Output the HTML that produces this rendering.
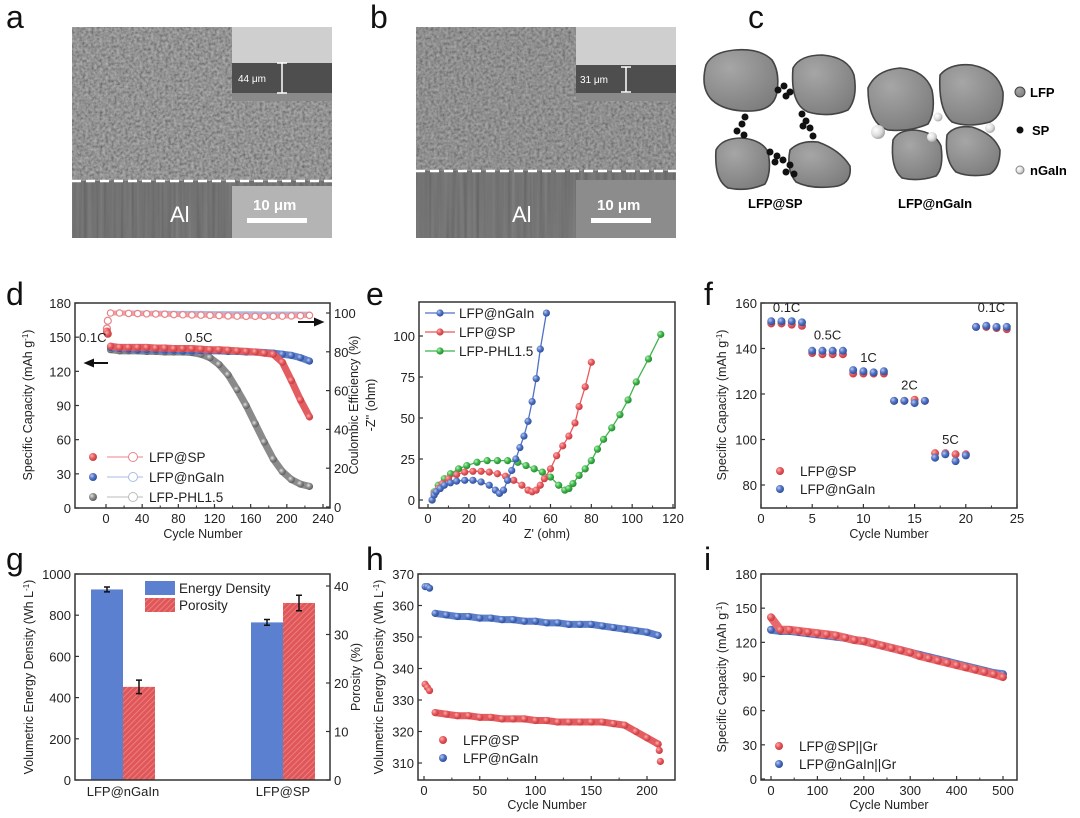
<!DOCTYPE html>
<html><head><meta charset="utf-8">
<style>
html,body{margin:0;padding:0;background:#fff;}
svg{display:block;font-family:"Liberation Sans",Arial,sans-serif;}
.tk{font-size:13px;fill:#222;}
.ax{font-size:12.5px;fill:#222;}
.pl{font-size:32px;fill:#111;}
.lg{font-size:13.5px;fill:#222;}
</style></head>
<body>
<svg id="fig" width="1080" height="818" viewBox="0 0 1080 818" xmlns="http://www.w3.org/2000/svg">
<defs>
<filter id="noise" x="0" y="0" width="1" height="1">
<feTurbulence type="fractalNoise" baseFrequency="0.35" numOctaves="2" seed="4"/>
<feColorMatrix type="matrix" values="1 0 0 0 0 1 0 0 0 0 1 0 0 0 0 0 0 0 0 1"/>
</filter>
<filter id="streak" x="0" y="0" width="1" height="1">
<feTurbulence type="fractalNoise" baseFrequency="0.25 0.005" numOctaves="2" seed="7"/>
<feColorMatrix type="matrix" values="1 0 0 0 0 1 0 0 0 0 1 0 0 0 0 0 0 0 0 1"/>
</filter>
<pattern id="hatch" width="4" height="4" patternUnits="userSpaceOnUse" patternTransform="rotate(45)">
<rect width="4" height="4" fill="#e0575a"/><line x1="0" y1="0" x2="0" y2="4" stroke="#f08a8a" stroke-width="1.5"/>
</pattern>
<radialGradient id="gr" cx="0.35" cy="0.35" r="0.7"><stop offset="0" stop-color="#f7b0b0"/><stop offset="0.5" stop-color="#e8585c"/><stop offset="1" stop-color="#c03a3e"/></radialGradient>
<radialGradient id="gb" cx="0.35" cy="0.35" r="0.7"><stop offset="0" stop-color="#b8c8ee"/><stop offset="0.5" stop-color="#4f72c4"/><stop offset="1" stop-color="#2c4c96"/></radialGradient>
<radialGradient id="gk" cx="0.35" cy="0.35" r="0.7"><stop offset="0" stop-color="#e0e0e0"/><stop offset="0.5" stop-color="#8a8a8a"/><stop offset="1" stop-color="#5a5a5a"/></radialGradient>
<radialGradient id="gg" cx="0.35" cy="0.35" r="0.7"><stop offset="0" stop-color="#b8f0b8"/><stop offset="0.5" stop-color="#3db54a"/><stop offset="1" stop-color="#23862e"/></radialGradient>
<radialGradient id="gw" cx="0.35" cy="0.35" r="0.7"><stop offset="0" stop-color="#ffffff"/><stop offset="0.6" stop-color="#dcdcdc"/><stop offset="1" stop-color="#a0a0a0"/></radialGradient>
<radialGradient id="gp" cx="0.35" cy="0.3" r="0.8"><stop offset="0" stop-color="#a6a6a6"/><stop offset="1" stop-color="#7c7c7c"/></radialGradient>
</defs>

<text class="pl" x="6" y="28">a</text>
<text class="pl" x="370" y="28">b</text>
<text class="pl" x="748" y="28">c</text>
<text class="pl" x="6" y="305">d</text>
<text class="pl" x="366" y="305">e</text>
<text class="pl" x="704" y="305">f</text>
<text class="pl" x="6" y="570">g</text>
<text class="pl" x="366" y="570">h</text>
<text class="pl" x="704" y="570">i</text>

<g>
<rect x="72" y="27" width="260" height="154" fill="#626262"/>
<rect x="72" y="27" width="260" height="154" filter="url(#noise)" opacity="0.55"/>
<rect x="72" y="181" width="260" height="57" fill="#5a5a5a"/>
<rect x="72" y="181" width="260" height="57" filter="url(#streak)" opacity="0.25"/>
<line x1="72" y1="181" x2="332" y2="181" stroke="#fff" stroke-width="2.5" stroke-dasharray="9,5"/>
<rect x="232" y="27" width="100" height="36" fill="#cfcfcf"/>
<rect x="232" y="63" width="100" height="30" fill="#4e4e4e"/>
<rect x="232" y="93" width="100" height="8" fill="#8a8a8a"/>
<line x1="282" y1="63" x2="282" y2="93" stroke="#fff" stroke-width="1.5"/>
<line x1="277" y1="63" x2="287" y2="63" stroke="#fff" stroke-width="1.5"/>
<line x1="277" y1="93" x2="287" y2="93" stroke="#fff" stroke-width="1.5"/>
<text x="238" y="82" font-size="10" fill="#fff">44 μm</text>
<rect x="232" y="186" width="100" height="52" fill="#b4b4b4"/>
<text x="253" y="210" font-size="15" fill="#fff" font-weight="bold">10 μm</text>
<rect x="247" y="218" width="60" height="5" fill="#fff"/>
<text x="170" y="222" font-size="22" fill="#fff">Al</text>
</g>
<g>
<rect x="416" y="27" width="260" height="144" fill="#626262"/>
<rect x="416" y="27" width="260" height="144" filter="url(#noise)" opacity="0.5"/>
<rect x="416" y="171" width="260" height="67" fill="#5c5c5c"/>
<rect x="416" y="171" width="260" height="67" filter="url(#streak)" opacity="0.25"/>
<line x1="416" y1="171" x2="676" y2="171" stroke="#fff" stroke-width="2.5" stroke-dasharray="9,5"/>
<rect x="576" y="27" width="100" height="38" fill="#cfcfcf"/>
<rect x="576" y="65" width="100" height="28" fill="#4e4e4e"/>
<rect x="576" y="93" width="100" height="8" fill="#8a8a8a"/>
<line x1="626" y1="67" x2="626" y2="92" stroke="#fff" stroke-width="1.5"/>
<line x1="621" y1="67" x2="631" y2="67" stroke="#fff" stroke-width="1.5"/>
<line x1="621" y1="92" x2="631" y2="92" stroke="#fff" stroke-width="1.5"/>
<text x="580" y="83" font-size="10" fill="#fff">31 μm</text>
<rect x="576" y="180" width="100" height="58" fill="#8c8c8c"/>
<text x="597" y="210" font-size="15" fill="#fff" font-weight="bold">10 μm</text>
<rect x="591" y="218" width="60" height="5" fill="#fff"/>
<text x="512" y="222" font-size="22" fill="#fff">Al</text>
</g>
<g stroke="#444" stroke-width="1.6" stroke-linejoin="round" fill="url(#gp)">
<path d="M706 65 Q712 52 735 50 Q760 48 772 60 Q780 72 777 92 Q774 110 752 111 Q725 112 712 100 Q700 88 706 65 Z"/>
<path d="M793 68 Q800 55 822 55 Q848 57 854 75 Q858 98 848 110 Q830 118 808 112 Q790 104 793 68 Z"/>
<path d="M716 150 Q722 138 742 138 Q762 140 768 152 Q772 172 765 184 Q748 192 728 188 Q714 180 716 150 Z"/>
<path d="M790 150 Q800 140 818 142 Q840 150 850 166 Q852 182 838 186 Q812 190 796 182 Q786 170 790 150 Z"/>
<path d="M868 88 Q876 70 900 68 Q925 70 932 90 Q936 112 928 124 Q910 132 888 130 Q868 124 868 88 Z"/>
<path d="M940 75 Q950 63 972 65 Q998 70 1003 92 Q1004 115 990 122 Q968 128 952 122 Q938 110 940 75 Z"/>
<path d="M893 140 Q898 130 915 130 Q935 132 941 146 Q944 168 936 176 Q918 182 902 178 Q890 168 893 140 Z"/>
<path d="M947 135 Q954 125 972 127 Q994 134 1000 150 Q1000 168 990 174 Q970 178 956 172 Q944 160 947 135 Z"/>
</g>
<g fill="#111">
<circle cx="778" cy="90" r="3.5"/><circle cx="784" cy="86" r="3.5"/><circle cx="790" cy="92" r="3.5"/><circle cx="786" cy="96" r="3.5"/>
<circle cx="745" cy="117" r="3.5"/><circle cx="742" cy="124" r="3.5"/><circle cx="737" cy="131" r="3.5"/><circle cx="744" cy="135" r="3.5"/>
<circle cx="802" cy="114" r="3.5"/><circle cx="806" cy="121" r="3.5"/><circle cx="810" cy="128" r="3.5"/><circle cx="803" cy="126" r="3.5"/><circle cx="813" cy="136" r="3.5"/>
<circle cx="770" cy="152" r="3.5"/><circle cx="777" cy="156" r="3.5"/><circle cx="783" cy="160" r="3.5"/><circle cx="775" cy="162" r="3.5"/><circle cx="790" cy="165" r="3.5"/><circle cx="786" cy="172" r="3.5"/><circle cx="794" cy="174" r="3.5"/>
</g>
<g fill="url(#gw)">
<circle cx="938" cy="117" r="4.5"/><circle cx="878" cy="132" r="7"/><circle cx="932" cy="137" r="5"/><circle cx="990" cy="128" r="5"/>
</g>
<g>
<circle cx="1020" cy="92" r="5" fill="url(#gp)" stroke="#444"/><text x="1030" y="97" font-size="13" font-weight="bold">LFP</text>
<circle cx="1020" cy="130" r="3.5" fill="#111"/><text x="1032" y="135" font-size="13" font-weight="bold">SP</text>
<circle cx="1020" cy="170" r="4" fill="url(#gw)" stroke="#888"/><text x="1030" y="175" font-size="13" font-weight="bold">nGaIn</text>
</g>
<text x="748" y="208" font-size="13" font-weight="bold">LFP@SP</text>
<text x="898" y="208" font-size="13" font-weight="bold">LFP@nGaIn</text>

<g id="charts"></g>
</svg>

<script>
const dCycles = [5,15,25,35,45,55,65,75,85,95,105,115,125,135,145,155,165,175,185,195,205,215,225];
const dCapSP = [142,141,141,141,141,140.5,140.5,140,140,140,139.5,139,139,138.5,138,137.5,137,136,135,128,112,95,80];
const dCapNG = [141,140,139.5,139,139,139,138.5,138.5,138,138,138,138,138,137.5,137.5,137,137,136.5,136,135,134,132,129];
const dCapPHL = [139,138,138,138,137.5,137.5,137,137,137,136.5,135,132,126,117,104,90,74,58,43,32,25,21,19];
const dFirstCycles = [1,2];
const dFirstSP = [155,153];
const dCeSP = [100,100,99.8,99.7,99.6,99.5,99.4,99.2,99.1,99,98.9,98.8,98.7,98.5,98.4,98.3,98.3,98.3,98.3,98.4,98.5,98.6,98.8];
const dCeNG = [100,100,100,100,99.9,99.9,99.9,99.8,99.8,99.8,99.8,99.7,99.7,99.7,99.6,99.6,99.6,99.5,99.5,99.5,99.5,99.4,99.4];
const dCeFirst = [92,96];
const dXTicks = [0,40,80,120,160,200,240];
const dYTicks = [0,30,60,90,120,150,180];
const dY2Ticks = [0,20,40,60,80,100];
const eNGx = [2,3,4,6,8,11,14,18,22,26,30,33,35,37,39,41,43,45,47,49,51,53,55,58];
const eNGy = [0,3,5,7,9,10.5,11.5,12,12,11,9,6,4,6,12,18,25,32,39,48,60,74,92,114];
const eSPx = [2,3,5,7,10,14,18,22,26,30,34,38,42,46,49,51,53,55,57,60,63,66,69,72,74,77,80];
const eSPy = [0,4,7,10,13,15.5,17,17.5,17.5,17,16,14.5,12,9,6,5,6,9,13,19,27,33,39,47,57,69,84];
const ePHx = [2,3,5,8,11,15,19,24,29,34,39,44,48,52,56,60,64,67,69,71,74,77,80,83,86,90,94,98,102,108,114];
const ePHy = [0,5,9,13,16,19,21,23,24,24,24,23,21,19,17,14,9,6,7,10,15,19,24,31,37,44,52,61,72,86,101];
const eXTicks = [0,20,40,60,80,100,120];
const eYTicks = [0,25,50,75,100];
const fCycles = [1,2,3,4,5,6,7,8,9,10,11,12,13,14,15,16,17,18,19,20,21,22,23,24];
const fSP = [151,151,150.5,150,138,137.5,137.5,137.5,129,129,129,129,117,117,117.5,117,94,94,93.5,93.5,149.5,149.5,149,148.5];
const fNG = [152,152,152,151.5,139,139,139,139,130.5,130,129.5,130,117,117,116,117,92,93.5,90.5,93,149.5,150,149.5,149.5];
const fRateLabels = ['0.1C','0.5C','1C','2C','5C','0.1C'];
const fRateX = [2.5,6.5,10.5,14.5,18.5,22.5];
const fRateY = [156,144,134,122,98,156];
const fXTicks = [0,5,10,15,20,25];
const fYTicks = [80,100,120,140,160];
const gCats = ['LFP@nGaIn','LFP@SP'];
const gEnergy = [925,765];
const gEnergyErr = [12,14];
const gPorosity = [19.2,36.5];
const gPorosityErr = [1.4,1.6];
const gYTicks = [0,200,400,600,800,1000];
const gY2Ticks = [0,10,20,30,40];
const hFirstCycles = [1,3,5];
const hFirstSP = [335,334,333];
const hFirstNG = [366,366,365.5];
const hCycles = [10,20,30,40,50,60,70,80,90,100,110,120,130,140,150,160,170,180,190,200,210];
const hSP = [326,325.5,325,325,324.5,324.5,324,324,324,323.5,323.5,323,323,323,323,323,322.5,322,320,318,316];
const hNG = [357.5,357,356.5,356.5,356,356,355.5,355.5,355,355,354.5,354.5,354,354,354,353.5,353,352.5,352,351.5,350.5];
const hTailCycles = [211,212];
const hTailSP = [314,310.5];
const hXTicks = [0,50,100,150,200];
const hYTicks = [310,320,330,340,350,360,370];
const iCycles = [0,20,40,60,80,100,120,140,160,180,200,220,240,260,280,300,320,340,360,380,400,420,440,460,480,500];
const iSP = [142,131,131,130,129,128,127,126,124,122,121,119,117,115,113,111,108,106,104,102,100,98,96,94,92,89.5];
const iNG = [131,130,130,129,128,127,126,125,124,122,121,119,117,115,113,111,109,107,105,103,101,99,97,95,93,92];
const iXTicks = [0,100,200,300,400,500];
const iYTicks = [0,30,60,90,120,150,180];

const NS='http://www.w3.org/2000/svg';
const root=document.getElementById('charts');
function el(tag,attrs,parent){const e=document.createElementNS(NS,tag);for(const k in attrs)e.setAttribute(k,attrs[k]);(parent||root).appendChild(e);return e;}
function lin(d0,d1,r0,r1){return v=>r0+(v-d0)*(r1-r0)/(d1-d0);}

function frame(L,T,R,B,name){
  const f=el('rect',{x:L,y:T,width:R-L,height:B-T,fill:'none',stroke:'#333','stroke-width':1.5});
  
  
}
function xAxis(ticks,sx,B,T,name,minor){
  ticks.forEach((t,i)=>{
    const l=el('line',{x1:sx(t),x2:sx(t),y1:B,y2:B-4,stroke:'#333','stroke-width':1.2});
    
    
    const tx=el('text',{x:sx(t),y:B+15,'text-anchor':'middle',class:'tk'});
    tx.textContent=t;
    
    
    if(minor&&i<ticks.length-1){const m=(t+ticks[i+1])/2;
      const ml=el('line',{x1:sx(m),x2:sx(m),y1:B,y2:B-2.5,stroke:'#333'});
      
      }
  });
}
function yAxis(ticks,sy,L,name,right){
  ticks.forEach(t=>{
    const l=el('line',{x1:L,x2:right?L-4:L+4,y1:sy(t),y2:sy(t),stroke:'#333','stroke-width':1.2});
    
    
    const tx=el('text',{x:right?L+4:L-4,y:sy(t)+5,'text-anchor':right?'start':'end',class:'tk'});
    tx.textContent=t;
    
    
  });
}
function label(x,y,txt,rot,name){
  const t=el('text',{x:x,y:y,'text-anchor':'middle',class:'ax',transform:rot?`rotate(-90 ${x} ${y})`:''});
  t.innerHTML=txt;
  
  
}
function band(xs,ys,sx,sy,color,w,name){
  const p=el('polyline',{points:xs.map((x,i)=>sx(x)+','+sy(ys[i])).join(' '),fill:'none',stroke:color,'stroke-width':w,'stroke-linejoin':'round','stroke-linecap':'round'});
  
  
}
function dots(xs,ys,sx,sy,fill,r,name,stroke,open){
  xs.forEach((x,i)=>{
    const c=el('circle',{cx:sx(x),cy:sy(ys[i]),r:r,fill:open?'#fff':fill,stroke:stroke||'none','stroke-width':open?1.2:0.5});
    
    
  });
}
function legend(x,y,fill,txt,name,open,lineCol){
  if(lineCol){const l=el('line',{x1:x+14,x2:x+50,y1:y,y2:y,stroke:lineCol,'stroke-width':1});
    
    
    const o=el('circle',{cx:x+40,cy:y,r:4.5,fill:'#fff',stroke:lineCol,'stroke-width':1});
    
    }
  const c=el('circle',{cx:x,cy:y,r:4,fill:fill});
  
  
  const t=el('text',{x:x+(lineCol?56:20),y:y+5,class:'lg'});
  t.textContent=txt;
  
  
}

(function(){
  const L=75,R=330,T=303,B=508;
  const sx=lin(0,240,106,323), sy=lin(0,180,B,T), sy2=lin(0,100,507,313);
  frame(L,T,R,B,'chart-d');
  xAxis(dXTicks,sx,B,T,'chart-d',true); yAxis(dYTicks,sy,L,'chart-d',false); yAxis(dY2Ticks,sy2,R,'chart-d',true);
  band(dCycles,dCeNG,sx,sy2,'#a9bbe6',5,'ce-ngain-band');
  band(dCycles,dCeSP,sx,sy2,'#f2a0a0',5,'ce-sp-band');
  dots(dCycles,dCeSP,sx,sy2,'#fff',3.2,'ce-sp-marker','#e8838a',true);
  dots(dFirstCycles,dCeFirst,sx,sy2,'#fff',3.5,'ce-first-marker','#e8838a',true);
  band(dCycles,dCapPHL,sx,sy,'#8a8a8a',7,'cap-phl-band');
  dots(dCycles,dCapPHL,sx,sy,'url(#gk)',3.6,'cap-phl-marker');
  band(dCycles,dCapNG,sx,sy,'#5c7dc8',7,'cap-ngain-band');
  dots(dCycles,dCapNG,sx,sy,'url(#gb)',3.6,'cap-ngain-marker');
  band(dCycles,dCapSP,sx,sy,'#e25c60',7,'cap-sp-band');
  dots(dCycles,dCapSP,sx,sy,'url(#gr)',3.6,'cap-sp-marker');
  dots(dFirstCycles,dFirstSP,sx,sy,'url(#gr)',4,'cap-sp-first-marker');
  label(32,405,'Specific Capacity (mAh g<tspan dy="-4" font-size="8">-1</tspan><tspan dy="4">)</tspan>',true,'chart-d-y-title');
  label(358,405,'Coulombic Efficiency (%)',true,'chart-d-y2-title');
  label(203,538,'Cycle Number',false,'chart-d-x-title');
  const t1=el('text',{x:79,y:342,class:'tk'}); t1.textContent='0.1C';
  
  
  const t2=el('text',{x:185,y:342,class:'tk'}); t2.textContent='0.5C';
  
  
  const a1=el('path',{d:'M86 363 L108 363 M86 363 L93 360 L93 366 Z',stroke:'#111','stroke-width':2,fill:'#111'});
  
  
  const a2=el('path',{d:'M298 322 L322 322 M322 322 L315 319 L315 325 Z',stroke:'#111','stroke-width':2,fill:'#111'});
  
  
  legend(93,457,'url(#gr)','LFP@SP','legend-sp',false,'#e8838a');
  legend(93,477,'url(#gb)','LFP@nGaIn','legend-ngain',false,'#a9bbe6');
  legend(93,497,'url(#gk)','LFP-PHL1.5','legend-phl',false,'#bbb');
})();

(function(){
  const L=419,R=675,T=302,B=508;
  const sx=lin(0,120,428,673), sy=lin(0,100,500,336);
  frame(L,T,R,B,'chart-e');
  xAxis(eXTicks,sx,B,T,'chart-e',true); yAxis(eYTicks,sy,L,'chart-e',false);
  band(ePHx,ePHy,sx,sy,'#3db54a',1.3,'nyquist-phl-line');
  dots(ePHx,ePHy,sx,sy,'url(#gg)',3.6,'nyquist-phl-marker');
  band(eSPx,eSPy,sx,sy,'#e8585c',1.3,'nyquist-sp-line');
  dots(eSPx,eSPy,sx,sy,'url(#gr)',3.6,'nyquist-sp-marker');
  band(eNGx,eNGy,sx,sy,'#4f72c4',1.3,'nyquist-ngain-line');
  dots(eNGx,eNGy,sx,sy,'url(#gb)',3.6,'nyquist-ngain-marker');
  label(375,405,'-Z\'\' (ohm)',true,'chart-e-y-title');
  label(547,538,'Z\' (ohm)',false,'chart-e-x-title');
  [['url(#gb)','#4f72c4','LFP@nGaIn'],['url(#gr)','#e8585c','LFP@SP'],['url(#gg)','#3db54a','LFP-PHL1.5']].forEach((d,i)=>{
    const y=313+i*19;
    const l=el('line',{x1:425,x2:455,y1:y,y2:y,stroke:d[1],'stroke-width':1.3});
    
    
    const c=el('circle',{cx:440,cy:y,r:3.6,fill:d[0]});
    
    
    const t=el('text',{x:459,y:y+5,class:'lg'}); t.textContent=d[2];
    
    
  });
})();

(function(){
  const L=761,R=1017,T=303,B=508;
  const sx=lin(0,25,761,1017), sy=lin(80,160,485,303);
  frame(L,T,R,B,'chart-f');
  xAxis(fXTicks,sx,B,T,'chart-f',true); yAxis(fYTicks,sy,L,'chart-f',false);
  dots(fCycles,fSP,sx,sy,'url(#gr)',4,'rate-sp-marker');
  dots(fCycles,fNG,sx,sy,'url(#gb)',4,'rate-ngain-marker');
  fRateLabels.forEach((s,i)=>{
    const t=el('text',{x:sx(fRateX[i]),y:sy(fRateY[i]),'text-anchor':'middle',class:'tk','font-size':'12'});
    t.textContent=s;
    
    
  });
  label(726,405,'Specific Capacity (mAh g<tspan dy="-4" font-size="8">-1</tspan><tspan dy="4">)</tspan>',true,'chart-f-y-title');
  label(889,538,'Cycle Number',false,'chart-f-x-title');
  legend(780,471,'url(#gr)','LFP@SP','chart-f-legend-sp');
  legend(780,489,'url(#gb)','LFP@nGaIn','chart-f-legend-ngain');
})();

(function(){
  const L=75,R=330,T=574,B=780;
  const sy=lin(0,1000,B,T), sy2=lin(0,40,B,586);
  const cx=[123,283], bw=32;
  gCats.forEach((c,i)=>{
    const e=el('rect',{x:cx[i]-bw,y:sy(gEnergy[i]),width:bw,height:B-sy(gEnergy[i]),fill:'#5b80cf'});
    
    
    const p=el('rect',{x:cx[i],y:sy2(gPorosity[i]),width:bw,height:B-sy2(gPorosity[i]),fill:'url(#hatch)'});
    
    
    [[cx[i]-bw/2,sy(gEnergy[i]-gEnergyErr[i]),sy(gEnergy[i]+gEnergyErr[i])],[cx[i]+bw/2,sy2(gPorosity[i]-gPorosityErr[i]),sy2(gPorosity[i]+gPorosityErr[i])]].forEach(a=>{
      const eb=el('path',{d:`M${a[0]} ${a[1]} L${a[0]} ${a[2]} M${a[0]-3} ${a[1]} L${a[0]+3} ${a[1]} M${a[0]-3} ${a[2]} L${a[0]+3} ${a[2]}`,stroke:'#111','stroke-width':1.5});
      
      
    });
    const t=el('text',{x:cx[i],y:B+16,'text-anchor':'middle',class:'tk'}); t.textContent=c;
    
    
  });
  frame(L,T,R,B,'chart-g');
  yAxis(gYTicks,sy,L,'chart-g',false); yAxis(gY2Ticks,sy2,R,'chart-g',true);
  label(33,677,'Volumetric Energy Density (Wh L<tspan dy="-4" font-size="8">-1</tspan><tspan dy="4">)</tspan>',true,'chart-g-y-title');
  label(360,677,'Porosity (%)',true,'chart-g-y2-title');
  const l1=el('rect',{x:145,y:581,width:30,height:14,fill:'#5b80cf'});
  
  
  const l2=el('rect',{x:145,y:598,width:30,height:14,fill:'url(#hatch)'});
  
  
  const t1=el('text',{x:179,y:593,class:'lg'}); t1.textContent='Energy Density';
  
  
  const t2=el('text',{x:179,y:610,class:'lg'}); t2.textContent='Porosity';
  
  
})();

(function(){
  const L=418,R=675,T=574,B=780;
  const sx=lin(0,200,424,647), sy=lin(310,370,763,574);
  frame(L,T,R,B,'chart-h');
  xAxis(hXTicks,sx,B,T,'chart-h',true); yAxis(hYTicks,sy,L,'chart-h',false);
  band(hCycles,hNG,sx,sy,'#5c7dc8',7,'energy-ngain-band');
  dots(hCycles,hNG,sx,sy,'url(#gb)',3.6,'energy-ngain-marker');
  dots(hFirstCycles,hFirstNG,sx,sy,'url(#gb)',3.6,'energy-ngain-first-marker');
  band(hCycles,hSP,sx,sy,'#e25c60',7,'energy-sp-band');
  dots(hCycles,hSP,sx,sy,'url(#gr)',3.6,'energy-sp-marker');
  dots(hFirstCycles,hFirstSP,sx,sy,'url(#gr)',3.6,'energy-sp-first-marker');
  dots(hTailCycles,hTailSP,sx,sy,'url(#gr)',3.6,'energy-sp-tail-marker');
  label(383,677,'Volumetric Energy Density (Wh L<tspan dy="-4" font-size="8">-1</tspan><tspan dy="4">)</tspan>',true,'chart-h-y-title');
  label(547,809,'Cycle Number',false,'chart-h-x-title');
  legend(443,740,'url(#gr)','LFP@SP','chart-h-legend-sp');
  legend(443,758,'url(#gb)','LFP@nGaIn','chart-h-legend-ngain');
})();

(function(){
  const L=761,R=1017,T=574,B=780;
  const sx=lin(0,500,771,1003), sy=lin(0,180,779,574);
  frame(L,T,R,B,'chart-i');
  xAxis(iXTicks,sx,B,T,'chart-i',true); yAxis(iYTicks,sy,L,'chart-i',false);
  band(iCycles,iNG,sx,sy,'#5c7dc8',8,'cycling-ngain-band');
  dots(iCycles,iNG,sx,sy,'url(#gb)',3.8,'cycling-ngain-marker');
  band(iCycles,iSP,sx,sy,'#e8686c',8,'cycling-sp-band');
  dots(iCycles,iSP,sx,sy,'url(#gr)',3.8,'cycling-sp-marker');
  label(726,677,'Specific Capacity (mAh g<tspan dy="-4" font-size="8">-1</tspan><tspan dy="4">)</tspan>',true,'chart-i-y-title');
  label(889,809,'Cycle Number',false,'chart-i-x-title');
  legend(779,746,'url(#gr)','LFP@SP||Gr','chart-i-legend-sp');
  legend(779,764,'url(#gb)','LFP@nGaIn||Gr','chart-i-legend-ngain');
})();
</script>
</body></html>
